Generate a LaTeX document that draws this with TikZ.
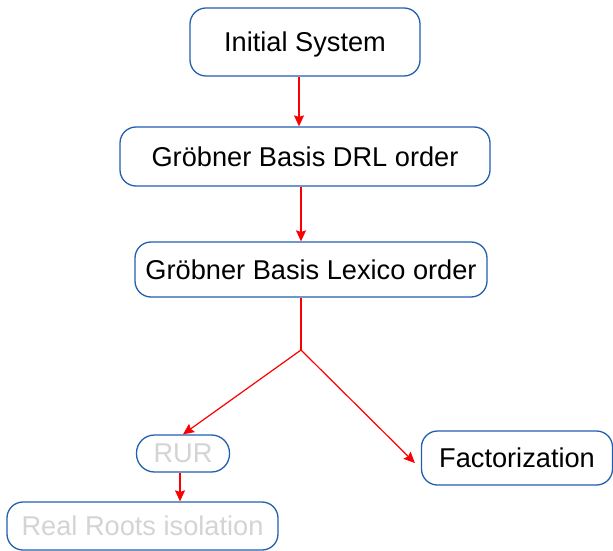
\documentclass[tikz,border=0pt]{standalone}
\usepackage{fontspec}
\setmainfont{Liberation Sans}
\usepackage{xcolor}
\usetikzlibrary{arrows.meta}
\definecolor{boxblue}{RGB}{35,95,175}
\definecolor{arrowred}{RGB}{250,0,0}
\definecolor{fadedgray}{RGB}{212,212,212}

\begin{document}
\begin{tikzpicture}[x=0.5pt, y=-0.5pt,
        box/.style={draw=boxblue, line width=0.65pt, rounded corners=8pt, fill=white,
                    inner sep=0pt, font=\fontsize{13.6pt}{16pt}\selectfont},
        link/.style={draw=arrowred, line width=0.6pt},
        arr/.style={link, -{Stealth[length=5.5pt, width=5pt, inset=0.8pt]}}]
        \useasboundingbox (0,0) rectangle (613,550);
        % main chain
        \node[box, text height=12.8pt, text depth=2.9pt, minimum width=115pt, minimum height=34pt] (init) at (305,42) {Initial System};
        \node[box, minimum width=185pt, minimum height=29.5pt] (drl) at (305,156.5) {Gröbner Basis DRL order};
        \node[box, minimum width=176pt, minimum height=27.5pt] (lex) at (311,269.5) {Gröbner Basis Lexico order};
        \coordinate (split) at (301,350);
        % branches
        \node[box, text=fadedgray, rounded corners=9pt, minimum width=46.5pt, minimum height=18.5pt] (rur) at (183,453.5) {RUR};
        \node[box, text=fadedgray, minimum width=135.5pt, minimum height=24pt] (roots) at (142.5,526) {Real Roots isolation};
        \node[box, minimum width=95.5pt, minimum height=27pt] (fact) at (517,458) {Factorization};

        \draw[arr] (init.south -| 299,0) -- (drl.north -| 299,0);
        \draw[arr] (drl.south -| split) -- (lex.north -| split);
        \draw[link] (lex.south -| split) -- (split);
        \draw[arr] (split) -- (rur.north);
        \draw[arr] (split) -- ([xshift=-3pt, yshift=-2.5pt]fact.west);
        \draw[arr] (rur.south -| 180,0) -- (roots.north -| 180,0);
    \end{tikzpicture}
\end{document}
